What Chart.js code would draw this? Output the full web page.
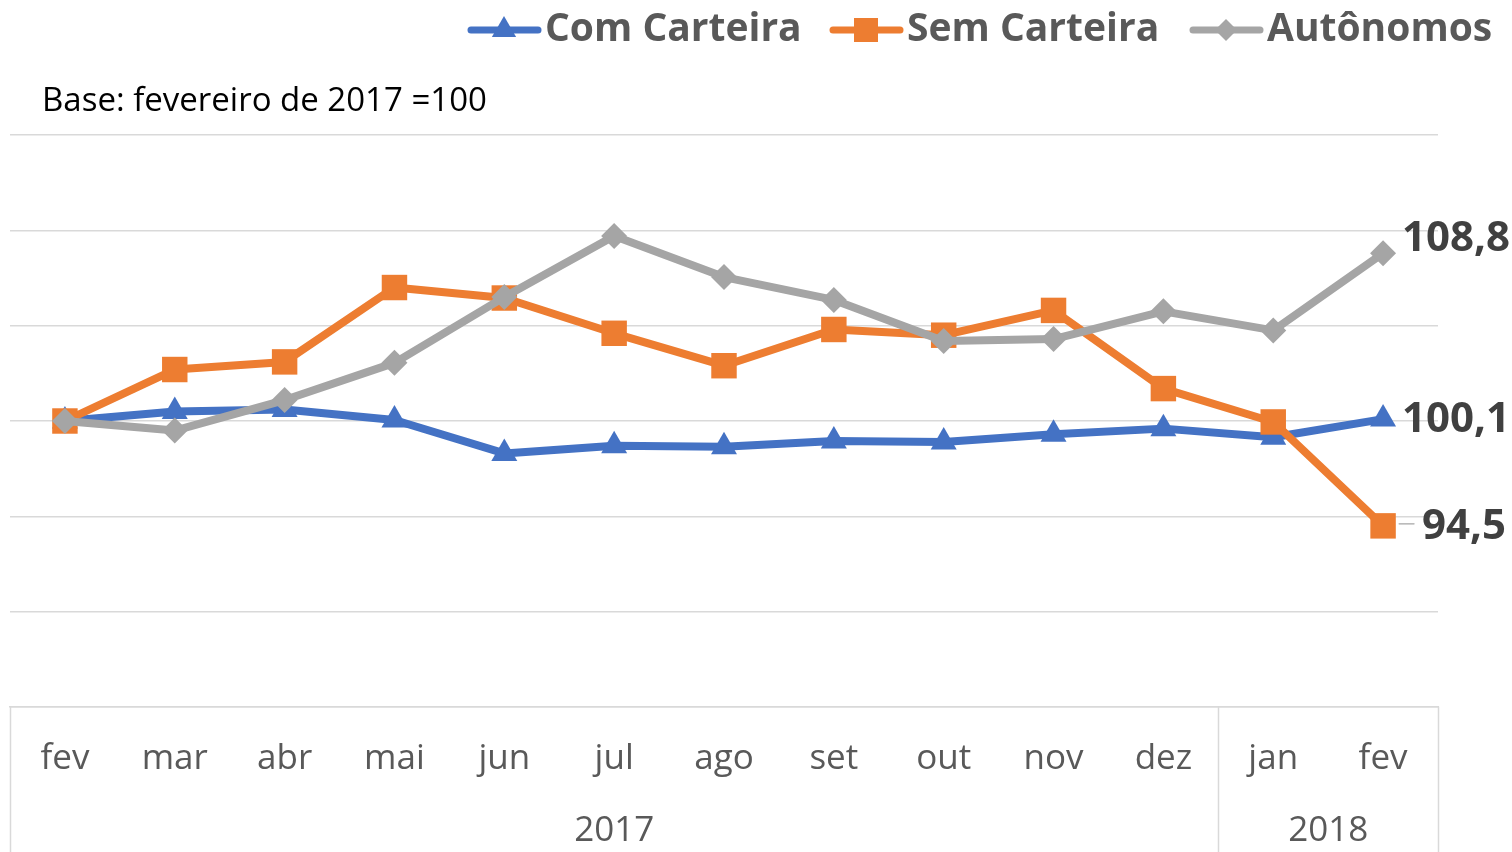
<!DOCTYPE html>
<html>
<head>
<meta charset="utf-8">
<script src="https://cdn.jsdelivr.net/npm/chart.js@4/dist/chart.umd.min.js"></script>
<style>
  html, body { margin: 0; padding: 0; background: #fff; }
  #wrap { width: 1512px; height: 852px; position: relative; overflow: hidden; }
</style>
</head>
<body>
<div id="wrap"><canvas id="indexChart" width="1512" height="852"></canvas></div>
<script>
// Data
const months = ['fev', 'mar', 'abr', 'mai', 'jun', 'jul', 'ago', 'set', 'out', 'nov', 'dez', 'jan', 'fev'];
const years = ['2017', '2018'];
const monthsPerYear = [11, 2];
const comCarteira = [100, 100.5, 100.6, 100.05, 98.3, 98.7, 98.65, 98.95, 98.9, 99.3, 99.6, 99.15, 100.1];
const semCarteira = [100, 102.7, 103.1, 107.0, 106.45, 104.6, 102.9, 104.8, 104.5, 105.8, 101.7, 99.95, 94.5];
const autonomos = [100, 99.5, 101.1, 103.05, 106.5, 109.7, 107.55, 106.35, 104.2, 104.3, 105.75, 104.75, 108.8];

const BLUE = '#4472C4', ORANGE = '#ED7D31', GRAY = '#A5A5A5';
const GRID = '#d9d9d9';
const LABEL_FONT = '"Open Sans", "DejaVu Sans", sans-serif';

// legend, base note, year row, end labels
const extrasPlugin = {
  id: 'extras',
  afterDraw(chart) {
    const ctx = chart.ctx;
    const x = chart.scales.x, y = chart.scales.y;
    const area = chart.chartArea;
    ctx.save();

    // Legend
    const items = [
      { text: 'Com Carteira', color: BLUE, style: 'triangle', r: 14, lx: 468 },
      { text: 'Sem Carteira', color: ORANGE, style: 'rect', r: 17, lx: 830 },
      { text: 'Autônomos', color: GRAY, style: 'rectRot', r: 11, lx: 1190 }
    ];
    const ly = 30;
    items.forEach(it => {
      ctx.strokeStyle = it.color;
      ctx.lineWidth = 7;
      ctx.lineCap = 'round';
      ctx.beginPath();
      ctx.moveTo(it.lx + 3, ly);
      ctx.lineTo(it.lx + 70, ly);
      ctx.stroke();
      ctx.fillStyle = it.color;
      Chart.helpers.drawPoint(ctx, { pointStyle: it.style, radius: it.r, rotation: 0, borderWidth: 0 }, it.lx + 36, ly);
      ctx.fillStyle = '#595959';
      ctx.font = 'bold 39px ' + LABEL_FONT;
      ctx.textBaseline = 'middle';
      ctx.textAlign = 'left';
      ctx.fillText(it.text, it.lx + 77, ly);
    });

    // Base note
    ctx.fillStyle = '#000';
    ctx.font = '33px ' + LABEL_FONT;
    ctx.textBaseline = 'middle';
    ctx.fillText('Base: fevereiro de 2017 =100', 42, 102);

    // Category box with year row
    ctx.strokeStyle = GRID;
    ctx.lineWidth = 1.5;
    const half = (x.getPixelForValue(1) - x.getPixelForValue(0)) / 2;
    let idx = 0;
    const edges = [x.getPixelForValue(0) - half];
    monthsPerYear.forEach(n => { idx += n; edges.push(x.getPixelForValue(idx - 1) + half); });
    edges.forEach(ex => {
      ctx.beginPath();
      ctx.moveTo(Math.round(ex) + 0.5, area.bottom);
      ctx.lineTo(Math.round(ex) + 0.5, chart.height);
      ctx.stroke();
    });
    ctx.fillStyle = '#595959';
    ctx.font = '35px ' + LABEL_FONT;
    ctx.textAlign = 'center';
    years.forEach((yr, i) => {
      ctx.fillText(yr, (edges[i] + edges[i + 1]) / 2, 831);
    });

    // End-of-series value labels
    const last = months.length - 1;
    const px = x.getPixelForValue(last);
    const fmt = v => v.toFixed(1).replace('.', ',');
    ctx.font = 'bold 42px ' + LABEL_FONT;
    ctx.fillStyle = '#404040';
    ctx.textAlign = 'left';
    ctx.fillText(fmt(autonomos[last]), px + 19, y.getPixelForValue(autonomos[last]) - 14);
    ctx.fillText(fmt(comCarteira[last]), px + 19, y.getPixelForValue(comCarteira[last]) + 1);
    const sy = y.getPixelForValue(semCarteira[last]);
    ctx.fillText(fmt(semCarteira[last]), px + 39, sy + 1);
    ctx.strokeStyle = '#A5A5A5';
    ctx.lineWidth = 1.2;
    ctx.beginPath();
    ctx.moveTo(px + 16, sy - 2);
    ctx.lineTo(px + 31, sy - 2);
    ctx.stroke();

    ctx.restore();
  }
};

const ctx = document.getElementById('indexChart').getContext('2d');
new Chart(ctx, {
  type: 'line',
  data: {
    labels: months,
    datasets: [
      {
        label: 'Com Carteira',
        data: comCarteira,
        borderColor: BLUE,
        backgroundColor: BLUE,
        borderWidth: 8,
        pointStyle: 'triangle',
        pointRadius: 15,
        pointBorderWidth: 0,
        order: 2
      },
      {
        label: 'Sem Carteira',
        data: semCarteira,
        borderColor: ORANGE,
        backgroundColor: ORANGE,
        borderWidth: 8,
        pointStyle: 'rect',
        pointRadius: 18,
        pointBorderWidth: 0,
        order: 1
      },
      {
        label: 'Autônomos',
        data: autonomos,
        borderColor: GRAY,
        backgroundColor: GRAY,
        borderWidth: 8,
        pointStyle: 'rectRot',
        pointRadius: 13,
        pointBorderWidth: 0,
        order: 0
      }
    ]
  },
  options: {
    responsive: false,
    animation: false,
    clip: false,
    layout: { autoPadding: false, padding: { top: 135, left: 10, right: 74, bottom: 0 } },
    plugins: {
      legend: { display: false },
      tooltip: { enabled: false }
    },
    elements: { line: { tension: 0, borderJoinStyle: 'round' } },
    scales: {
      x: {
        offset: true,
        grid: { display: false, drawTicks: true, tickLength: 31 },
        border: { display: true, color: GRID, width: 1.5 },
        ticks: {
          color: '#595959',
          font: { size: 35, family: LABEL_FONT },
          padding: 0,
          maxRotation: 0,
          autoSkip: false
        },
        afterFit: s => { s.height = 145; }
      },
      y: {
        min: 85,
        max: 115,
        ticks: { display: false, stepSize: 5 },
        grid: { color: GRID, lineWidth: 1.5, drawTicks: false },
        border: { display: false },
        afterFit: s => { s.width = 0; }
      }
    }
  },
  plugins: [extrasPlugin]
});
</script>
</body>
</html>
